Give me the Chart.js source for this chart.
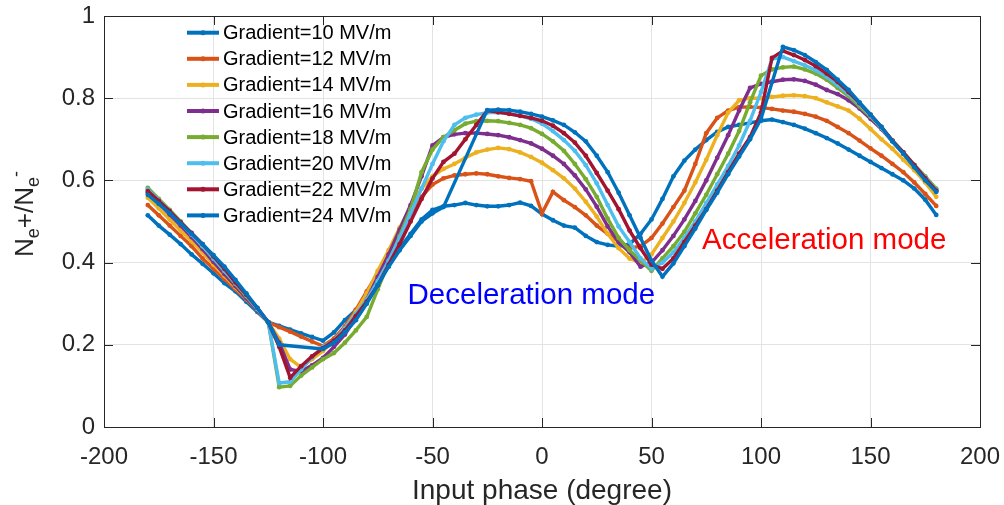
<!DOCTYPE html>
<html><head><meta charset="utf-8">
<script src="https://cdn.jsdelivr.net/npm/chart.js@4/dist/chart.umd.min.js"></script>
<style>html,body{margin:0;padding:0;background:#fff}canvas{display:block}</style>
</head><body>
<canvas id="c" width="1004" height="505"></canvas>
<script>
const phases = [-180,-175,-170,-165,-160,-155,-150,-145,-140,-135,-130,-125,
  -120,-115,-110,-105,-100,-95,-90,-85,-80,-75,-70,-65,
  -60,-55,-50,-45,-40,-35,-30,-25,-20,-15,-10,-5,
  0,5,10,15,20,25,30,35,40,45,50,55,
  60,65,70,75,80,85,90,95,100,105,110,115,
  120,125,130,135,140,145,150,155,160,165,170,175,
  180];

const g10 = [.515,.49,.468,.445,.42,.397,.374,.35,.33,.305,.28,.255,
  .246,.237,.228,.219,.21,.23,.26,.285,.315,.355,.395,.435,
  .47,.505,.528,.537,.54,.545,.54,.537,.537,.54,.546,.538,
  .518,.503,.49,.485,.465,.45,.443,.44,.445,.47,.505,.555,
  .61,.648,.675,.698,.718,.73,.735,.74,.745,.748,.742,.735,
  .726,.715,.703,.69,.675,.66,.645,.63,.615,.60,.58,.553,
  .516];
const g12 = [.54,.515,.49,.465,.44,.41,.385,.36,.335,.31,.285,.255,
  .243,.232,.22,.208,.197,.215,.245,.285,.33,.375,.42,.47,
  .52,.56,.59,.605,.612,.615,.617,.615,.61,.606,.603,.598,
  .52,.572,.552,.535,.515,.49,.47,.452,.435,.44,.46,.495,
  .535,.575,.64,.715,.752,.77,.778,.779,.777,.774,.77,.767,
  .762,.755,.745,.73,.715,.697,.678,.66,.64,.62,.595,.567,
  .538];
const g14 = [.558,.532,.505,.478,.452,.425,.395,.368,.34,.312,.283,.255,
  .215,.165,.145,.165,.185,.21,.24,.28,.325,.38,.43,.485,
  .535,.58,.61,.628,.64,.655,.668,.675,.679,.676,.668,.657,
  .643,.625,.605,.58,.548,.512,.47,.435,.41,.40,.42,.46,
  .50,.545,.595,.65,.71,.765,.795,.80,.80,.803,.806,.807,
  .805,.80,.79,.78,.77,.75,.725,.70,.677,.65,.625,.595,
  .56];
const g16 = [.57,.545,.517,.49,.462,.433,.402,.372,.343,.313,.283,.255,
  .205,.14,.135,.15,.168,.195,.225,.265,.31,.365,.42,.48,
  .54,.61,.685,.705,.712,.715,.715,.713,.71,.705,.698,.69,
  .677,.66,.64,.612,.578,.536,.488,.45,.425,.39,.40,.43,
  .465,.505,.55,.60,.655,.71,.77,.825,.835,.84,.845,.846,
  .842,.833,.82,.81,.795,.775,.75,.725,.695,.665,.635,.605,
  .575];
const g18 = [.582,.555,.528,.50,.47,.44,.41,.38,.348,.318,.287,.255,
  .097,.10,.125,.145,.165,.18,.205,.235,.268,.335,.40,.465,
  .53,.62,.675,.705,.722,.738,.744,.745,.744,.74,.735,.727,
  .713,.695,.672,.64,.603,.56,.507,.46,.43,.405,.38,.41,
  .44,.475,.52,.565,.615,.665,.72,.79,.855,.87,.875,.877,
  .87,.86,.845,.825,.805,.78,.755,.727,.697,.668,.638,.61,
  .58];
const g20 = [.578,.552,.525,.497,.468,.44,.41,.38,.35,.32,.287,.255,
  .107,.11,.14,.17,.195,.21,.24,.275,.31,.355,.405,.46,
  .52,.58,.64,.695,.735,.752,.76,.765,.765,.762,.757,.75,
  .738,.72,.698,.672,.637,.593,.54,.488,.45,.41,.385,.40,
  .425,.46,.50,.545,.59,.635,.685,.745,.815,.895,.90,.89,
  .88,.868,.852,.832,.81,.785,.758,.728,.697,.667,.637,.607,
  .577];
const g22 = [.574,.55,.525,.498,.472,.445,.415,.385,.352,.322,.29,.255,
  .195,.12,.148,.172,.192,.21,.235,.27,.305,.345,.395,.445,
  .50,.555,.605,.645,.665,.70,.735,.77,.766,.762,.757,.752,
  .745,.733,.715,.692,.66,.618,.575,.53,.478,.435,.395,.385,
  .41,.45,.49,.53,.575,.62,.665,.705,.765,.898,.915,.905,
  .893,.878,.86,.84,.815,.788,.76,.73,.697,.668,.637,.605,
  .575];
const g24 = [.565,.543,.52,.495,.47,.445,.418,.39,.358,.325,.29,.255,
  .20,null,null,null,.19,.205,.23,.26,.30,.345,.39,.43,
  .465,.50,.52,.535,null,null,null,.771,.772,.771,.767,.762,
  .755,.746,.735,.717,.695,.66,.62,.57,.515,.46,.405,.366,
  .398,.44,.483,.528,.57,.615,.658,.70,.75,null,.925,.917,
  .905,.888,.869,.845,.82,.79,.76,.73,.695,.665,.632,.60,
  .572];

const seriesNames = ['Gradient=10 MV/m','Gradient=12 MV/m','Gradient=14 MV/m','Gradient=16 MV/m',
  'Gradient=18 MV/m','Gradient=20 MV/m','Gradient=22 MV/m','Gradient=24 MV/m'];
const seriesValues = [g10,g12,g14,g16,g18,g20,g22,g24];
const seriesColors = ['#0072BD','#D95319','#EDB120','#7E2F8E','#77AC30','#4DBEEE','#A2142F','#0072BD'];

const xTicks = [-200,-150,-100,-50,0,50,100,150,200];
const yTicks = [0,0.2,0.4,0.6,0.8,1];

const FONT = '"Liberation Sans", Arial, Helvetica, sans-serif';
const TXT = '#262626';

const datasets = seriesValues.map((vals, i) => ({
  label: seriesNames[i],
  data: phases.map((p, k) => ({x: p, y: vals[k]})),
  borderColor: seriesColors[i],
  backgroundColor: seriesColors[i],
  pointBackgroundColor: seriesColors[i],
  pointBorderWidth: 0,
  pointRadius: 2.4,
  borderWidth: 3.4,
  tension: 0,
  spanGaps: true,
  order: 7 - i
}));

const decor = {
  id: 'decor',
  afterDraw(chart) {
    const {ctx, chartArea: a} = chart;
    const xs = chart.scales.x, ys = chart.scales.y;
    ctx.save();
    ctx.strokeStyle = TXT; ctx.lineWidth = 1;
    ctx.strokeRect(Math.round(a.left) + 0.5, Math.round(a.top) + 0.5,
      Math.round(a.right - a.left), Math.round(a.bottom - a.top));
    ctx.beginPath();
    xTicks.forEach(v => {
      const px = Math.round(xs.getPixelForValue(v)) + 0.5;
      ctx.moveTo(px, a.bottom); ctx.lineTo(px, a.bottom - 9);
      ctx.moveTo(px, a.top); ctx.lineTo(px, a.top + 9);
    });
    yTicks.forEach(v => {
      const py = Math.round(ys.getPixelForValue(v)) + 0.5;
      ctx.moveTo(a.left, py); ctx.lineTo(a.left + 9, py);
      ctx.moveTo(a.right, py); ctx.lineTo(a.right - 9, py);
    });
    ctx.stroke();

    ctx.font = '29.5px ' + FONT;
    ctx.textBaseline = 'alphabetic';
    ctx.textAlign = 'left';
    ctx.fillStyle = '#0000FF';
    ctx.fillText('Deceleration mode', xs.getPixelForValue(-61.4), ys.getPixelForValue(0.30));
    ctx.fillStyle = '#FF0000';
    ctx.fillText('Acceleration mode', xs.getPixelForValue(73.1), ys.getPixelForValue(0.433));

    ctx.font = '20px ' + FONT;
    ctx.textBaseline = 'middle';
    chart.data.datasets.forEach((ds, i) => {
      const yy = 32.7 + 26.1 * i;
      ctx.strokeStyle = ds.borderColor; ctx.lineWidth = 4;
      ctx.beginPath(); ctx.moveTo(187, yy); ctx.lineTo(219, yy); ctx.stroke();
      ctx.fillStyle = ds.borderColor;
      ctx.beginPath(); ctx.arc(203, yy, 2.5, 0, Math.PI * 2); ctx.fill();
      ctx.fillStyle = '#000';
      ctx.fillText(ds.label, 223, yy + 1);
    });

    const parts = [
      {t: 'N', s: 26, dy: 0}, {t: 'e', s: 18, dy: 6}, {t: '+', s: 26, dy: 0},
      {t: '/', s: 26, dy: 0}, {t: 'N', s: 26, dy: 0}, {t: 'e', s: 18, dy: 6},
      {t: '-', s: 18, dy: -11}
    ];
    let W = 0;
    parts.forEach(p => { ctx.font = p.s + 'px ' + FONT; p.w = ctx.measureText(p.t).width; W += p.w; });
    ctx.translate(0, 214);
    ctx.rotate(-Math.PI / 2);
    ctx.fillStyle = TXT;
    ctx.textBaseline = 'alphabetic';
    let cx = -W / 2;
    parts.forEach(p => {
      ctx.font = p.s + 'px ' + FONT;
      ctx.fillText(p.t, cx, 33 + p.dy);
      cx += p.w;
    });
    ctx.restore();
  }
};

new Chart(document.getElementById('c'), {
  type: 'line',
  data: {datasets},
  options: {
    responsive: false,
    animation: false,
    devicePixelRatio: 1,
    layout: {padding: {top: 16, right: 24, left: 0, bottom: 0}},
    plugins: {legend: {display: false}, tooltip: {enabled: false}},
    scales: {
      x: {
        type: 'linear', min: -200, max: 200,
        afterBuildTicks: s => { s.ticks = xTicks.map(v => ({value: v})); },
        afterFit: s => { s.height = 78; s.paddingLeft = 0; s.paddingRight = 0; },
        ticks: {font: {size: 24, family: FONT}, color: TXT, padding: 16, maxRotation: 0,
          callback: v => String(v)},
        grid: {color: '#e3e3e3', drawTicks: false},
        border: {display: false},
        title: {display: true, text: 'Input phase (degree)', color: TXT,
          font: {size: 28, family: FONT, lineHeight: 1.0}, padding: {top: 0, bottom: 0}}
      },
      y: {
        type: 'linear', min: 0, max: 1,
        afterBuildTicks: s => { s.ticks = yTicks.map(v => ({value: v})); },
        afterFit: s => { s.width = 104; s.paddingTop = 0; s.paddingBottom = 0; },
        ticks: {font: {size: 24, family: FONT}, color: TXT, padding: 9,
          callback: v => String(Math.round(v * 10) / 10)},
        grid: {color: '#e3e3e3', drawTicks: false},
        border: {display: false}
      }
    }
  },
  plugins: [decor]
});
</script>
</body></html>
